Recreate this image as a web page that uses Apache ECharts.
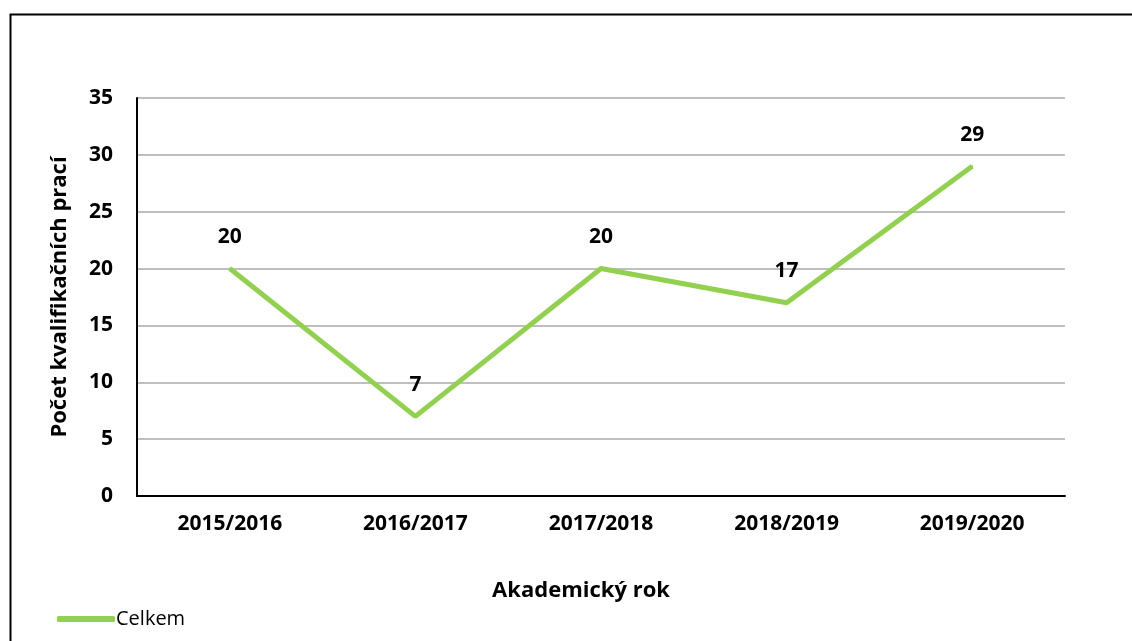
<!DOCTYPE html>
<html>
<head>
<meta charset="utf-8">
<script src="https://cdn.jsdelivr.net/npm/echarts@6/dist/echarts.min.js"></script>
<style>
	html, body { margin: 0; padding: 0; background: #fff; }
	#main { width: 1132px; height: 641px; }
</style>
</head>
<body>
<div id="main"></div>
<script>
var years = ["2015/2016", "2016/2017", "2017/2018", "2018/2019", "2019/2020"];
var celkem = [20, 7, 20, 17, 29];
var seriesName = "Celkem";

var fontFam = "'Open Sans', 'Noto Sans', sans-serif";
var green = '#92d050';

makeChart();

function makeChart() {
	var chart = echarts.init(document.getElementById('main'));

	var option = {
		animation: false,
		textStyle: { fontFamily: fontFam },
		graphic: [{
			type: 'rect',
			left: 8,
			top: 12,
			shape: { width: 1200, height: 700 },
			style: { fill: 'none', stroke: '#000', lineWidth: 2 }
		}],
		legend: {
			left: 52,
			top: 604,
			itemWidth: 58,
			itemHeight: 6,
			itemGap: 0,
			icon: 'roundRect',
			itemStyle: { color: green, opacity: 1 },
			textStyle: { fontSize: 20, color: '#000', fontFamily: fontFam, padding: [0, 0, 0, -4] },
			data: [seriesName]
		},
		grid: {
			left: 137,
			right: 67,
			top: 98,
			bottom: 145
		},
		xAxis: {
			type: 'category',
			data: years,
			boundaryGap: true,
			name: 'Akademický rok',
			nameLocation: 'middle',
			nameGap: 84,
			nameTextStyle: { fontSize: 22, fontWeight: 'bold', color: '#000', padding: [0, 40, 0, 0] },
			axisLine: { lineStyle: { color: '#000', width: 2 } },
			axisTick: { show: false },
			axisLabel: { fontSize: 21, fontWeight: 'bold', color: '#000', margin: 18 }
		},
		yAxis: {
			type: 'value',
			min: 0,
			max: 35,
			interval: 5,
			name: 'Počet kvalifikačních prací',
			nameLocation: 'middle',
			nameGap: 66,
			nameTextStyle: { fontSize: 22, fontWeight: 'bold', color: '#000' },
			axisLine: { show: true, lineStyle: { color: '#000', width: 2 } },
			axisTick: { show: false },
			axisLabel: { fontSize: 21, fontWeight: 'bold', color: '#000', margin: 24 },
			splitLine: { lineStyle: { color: '#bfbfbf', width: 2 } }
		},
		series: [{
			name: seriesName,
			type: 'line',
			data: celkem,
			symbol: 'circle',
			symbolSize: 2,
			showSymbol: true,
			lineStyle: { color: green, width: 5 },
			itemStyle: { color: green },
			label: {
				show: true,
				position: 'top',
				distance: 20,
				fontSize: 21,
				fontWeight: 'bold',
				color: '#000'
			}
		}]
	};

	chart.setOption(option);
}
</script>
</body>
</html>
